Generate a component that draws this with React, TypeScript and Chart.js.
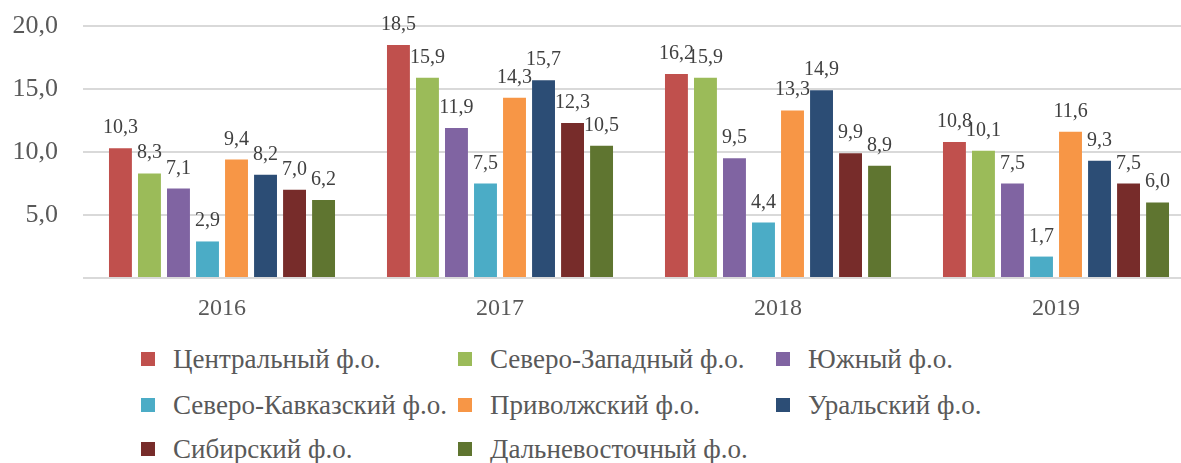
import React, { useEffect, useRef } from "react";
import { Chart, registerables } from "chart.js";

Chart.register(...registerables);

const categories = ["2016", "2017", "2018", "2019"];
const seriesNames = [
  "Центральный ф.о.",
  "Северо-Западный ф.о.",
  "Южный ф.о.",
  "Северо-Кавказский ф.о.",
  "Приволжский ф.о.",
  "Уральский ф.о.",
  "Сибирский ф.о.",
  "Дальневосточный ф.о.",
];
const central = [10.3, 18.5, 16.2, 10.8];
const northWest = [8.3, 15.9, 15.9, 10.1];
const south = [7.1, 11.9, 9.5, 7.5];
const northCaucasus = [2.9, 7.5, 4.4, 1.7];
const volga = [9.4, 14.3, 13.3, 11.6];
const ural = [8.2, 15.7, 14.9, 9.3];
const siberian = [7.0, 12.3, 9.9, 7.5];
const farEast = [6.2, 10.5, 8.9, 6.0];
const seriesValues = [central, northWest, south, northCaucasus, volga, ural, siberian, farEast];
const colors = ["#C0504D", "#9BBB59", "#8064A2", "#4BACC6", "#F79646", "#2C4D75", "#772C2A", "#5F7530"];
const yTicks = [0, 5, 10, 15, 20];

const FONT = "'Liberation Serif', serif";
const fmt = (v: number) => v.toFixed(1).replace(".", ",");

const valueLabels = {
  id: "valueLabels",
  afterDatasetsDraw(chart: any) {
    const ctx = chart.ctx;
    ctx.save();
    ctx.font = `20px ${FONT}`;
    ctx.fillStyle = "#404040";
    ctx.textAlign = "center";
    ctx.textBaseline = "alphabetic";
    chart.data.datasets.forEach((ds: any, i: number) => {
      const meta = chart.getDatasetMeta(i);
      meta.data.forEach((el: any, j: number) => {
        ctx.fillText(fmt(ds.data[j]), el.x, el.y - 15);
      });
    });
    ctx.restore();
  },
};

const legendCols = [141, 458, 776];
const legendRows = [359, 405, 449];

export default function App() {
  const ref = useRef<HTMLCanvasElement>(null);
  useEffect(() => {
    if (!ref.current) return;
    const chart = new Chart(ref.current, {
      type: "bar",
      data: {
        labels: categories,
        datasets: seriesNames.map((name, i) => ({
          label: name,
          data: seriesValues[i],
          backgroundColor: colors[i],
          borderWidth: 0,
          categoryPercentage: 0.835,
          barPercentage: 0.79,
        })),
      },
      options: {
        responsive: false,
        animation: false,
        layout: { padding: { top: 26, right: 5, left: 0, bottom: 0 } },
        plugins: { legend: { display: false }, tooltip: { enabled: false } },
        scales: {
          x: {
            grid: { display: false },
            border: { display: false },
            afterFit: (scale: any) => {
              scale.height = 52;
            },
            ticks: { font: { family: FONT, size: 24 }, color: "#595959", padding: 8 },
          },
          y: {
            min: 0,
            max: 20,
            afterBuildTicks: (scale: any) => {
              scale.ticks = yTicks.map((v) => ({ value: v }));
            },
            afterFit: (scale: any) => {
              scale.width = 83;
              scale.paddingTop = 0;
              scale.paddingBottom = 0;
            },
            ticks: {
              font: { family: FONT, size: 26 },
              color: "#595959",
              padding: 25,
              callback: (v: any) => (v === 0 ? "" : fmt(Number(v))),
            },
            grid: { color: "#d9d9d9", lineWidth: 2, drawTicks: false },
            border: { display: false },
          },
        },
      },
      plugins: [valueLabels],
    });
    return () => chart.destroy();
  }, []);

  return (
    <div
      style={{
        position: "fixed",
        left: 0,
        top: 0,
        width: 1181,
        height: 463,
        overflow: "hidden",
        background: "#fff",
      }}
    >
      <canvas ref={ref} width={1200} height={330} style={{ position: "absolute", left: 0, top: 0, width: 1200, height: 330 }} />
      {seriesNames.map((name, i) => {
        const col = i % 3;
        const row = Math.floor(i / 3);
        const cy = legendRows[row];
        return (
          <React.Fragment key={name}>
            <div
              style={{
                position: "absolute",
                left: legendCols[col],
                top: cy - 7,
                width: 14,
                height: 14,
                background: colors[i],
              }}
            />
            <div
              style={{
                position: "absolute",
                left: legendCols[col] + 32,
                top: cy - 13,
                fontFamily: FONT,
                fontSize: 27,
                lineHeight: "27px",
                color: "#595959",
                whiteSpace: "nowrap",
              }}
            >
              {name}
            </div>
          </React.Fragment>
        );
      })}
    </div>
  );
}
